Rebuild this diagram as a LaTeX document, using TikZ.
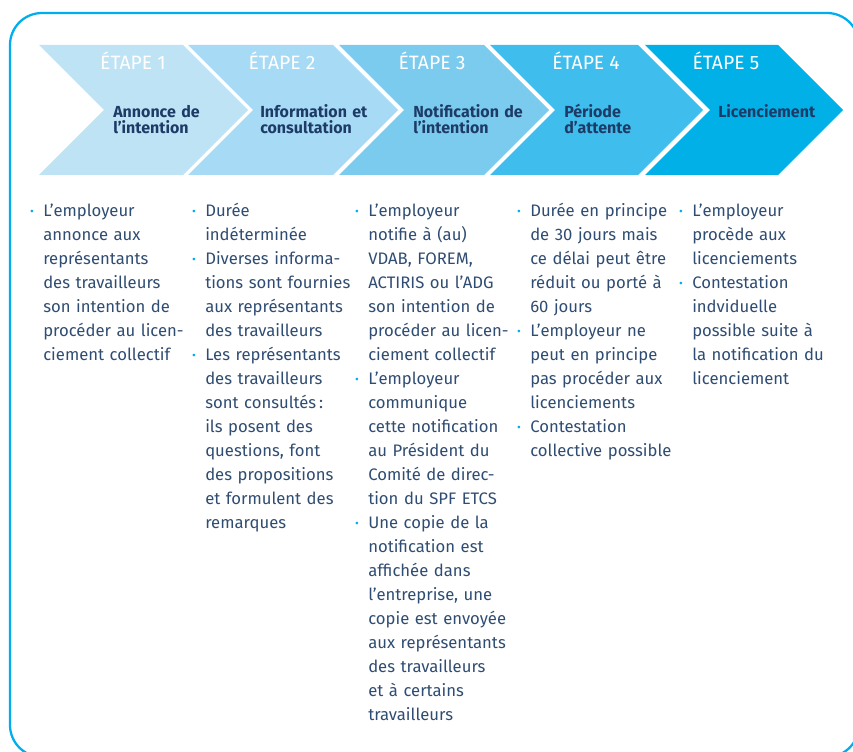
\documentclass[tikz,border=0pt]{standalone}
\usepackage{fontspec}
\usepackage{graphicx}
\setmainfont{Fira Sans}
\usetikzlibrary{positioning}

\definecolor{cadre}{HTML}{00AEEF}
\definecolor{chevA}{HTML}{BEE3F5}
\definecolor{chevB}{HTML}{A7DBF5}
\definecolor{chevC}{HTML}{7BCBEF}
\definecolor{chevD}{HTML}{3FBDEC}
\definecolor{chevE}{HTML}{00B0E6}
\definecolor{titrecol}{HTML}{1D3B66}
\definecolor{textecol}{HTML}{2F4C72}

\newcommand\puce{\leavevmode\llap{\textcolor{cadre}{\raisebox{0.08em}{\scalebox{0.7}{•}}}\hspace{7pt}}}

\begin{document}
\begin{tikzpicture}[x=0.75pt,y=-0.75pt,
  etape/.style={font=\fontsize{14.5}{14.5}\selectfont, text=white, anchor=base, inner sep=0pt},
  titre/.style={font=\bfseries\fontsize{12}{11.5}\selectfont, text=titrecol, text width=95pt, align=left, anchor=base west, inner sep=0pt},
  colonne/.style={font=\fontsize{12.5}{18}\selectfont, text=textecol, text width=115pt, align=left, anchor=base west, inner sep=0pt}]
		
		\useasboundingbox (0,0) rectangle (853,752);
		
		%Frame
		\begin{scope}
		\clip (0,0) rectangle (853,752);
		\draw[cadre, line width=1.7pt, rounded corners=24pt] (10,13) rectangle (859,757);
		\end{scope}
		
		%Chevrons
		\foreach \l/\r/\c in {39/183/chevA, 188/333/chevB, 339/484/chevC, 490/638/chevD, 645/778/chevE}
		\fill[\c] (\l,45) -- (\r,45) -- ++(65,65) -- (\r,175) -- (\l,175) -- ++(65,-65) -- cycle;
		
		%Step labels
		\foreach \x [count=\i] in {133,282,432,586,726}
		\node[etape] (etape\i) at (\x,70) {ÉTAPE \i};
		
		%Step titles
		\node[titre] (titre1) at (113,118) {Annonce de\\l’intention};
		\node[titre] (titre2) at (260,118) {Information et\\consultation};
		\node[titre] (titre3) at (413,118) {Notification de\\l’intention};
		\node[titre] (titre4) at (564,118) {Période\\d’attente};
		\node[titre] (titre5) at (718,118) {Licenciement};
		
		%Columns
		\node[colonne] (col1) at (43,217) {\puce L’employeur\\annonce aux\\représentants\\des travailleurs\\son intention de\\procéder au licen-\\ciement collectif};
		\node[colonne] (col2) at (205,217) {\puce Durée\\indéterminée\\\puce Diverses informa-\\tions sont fournies\\aux représentants\\des travailleurs\\\puce Les représentants\\des travailleurs\\sont consultés\,:\\ils posent des\\questions, font\\des propositions\\et formulent des\\remarques};
		\node[colonne] (col3) at (368,217) {\puce L’employeur\\notifie à (au)\\VDAB, FOREM,\\ACTIRIS ou l’ADG\\son intention de\\procéder au licen-\\ciement collectif\\\puce L’employeur\\communique\\cette notification\\au Président du\\Comité de direc-\\tion du SPF ETCS\\\puce Une copie de la\\notification est\\affichée dans\\l’entreprise, une\\copie est envoyée\\aux représentants\\des travailleurs\\et à certains\\travailleurs};
		\node[colonne] (col4) at (530,217) {\puce Durée en principe\\de 30 jours mais\\ce délai peut être\\réduit ou porté à\\60 jours\\\puce L’employeur ne\\peut en principe\\pas procéder aux\\licenciements\\\puce Contestation\\collective possible};
		\node[colonne] (col5) at (692,217) {\puce L’employeur\\procède aux\\licenciements\\\puce Contestation\\indviduelle\\possible suite à\\la notification du\\licenciement};
		
\end{tikzpicture}
\end{document}
